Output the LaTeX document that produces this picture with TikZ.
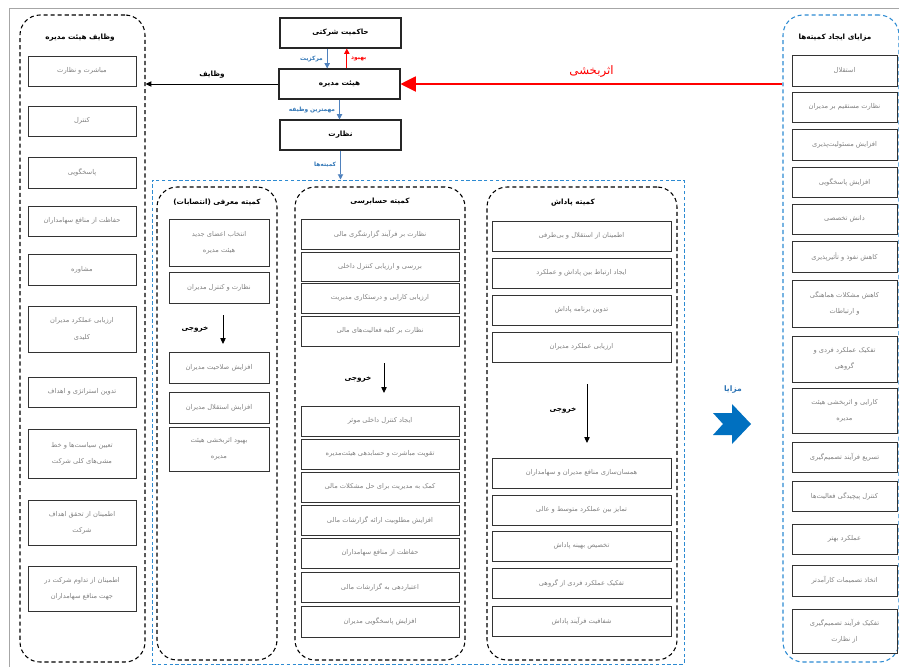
\documentclass[tikz,border=0pt]{standalone}
\usepackage{fontspec}
\usetikzlibrary{arrows.meta}
\newfontfamily\arabicfont[Script=Arabic]{DejaVu Sans}
\TeXXeTstate=1
\newcommand{\fa}[1]{\beginR#1\endR}
\definecolor{arrowblue}{HTML}{4F81BD}
\definecolor{labelblue}{HTML}{2E74B5}
\definecolor{dashblue}{HTML}{2D8BD2}
\definecolor{chevblue}{HTML}{0070C0}

\tikzset{
  titletext/.style={font=\arabicfont\bfseries\fontsize{6.2}{7.5}\selectfont},
  bluelabel/.style={font=\arabicfont\bfseries\fontsize{5}{6}\selectfont,text=labelblue},
  bluearrow/.style={draw=arrowblue,line width=0.8pt,-{Triangle[width=4.5pt,length=4.5pt]}},
  blackarrow/.style={draw=black,line width=0.8pt,-{Triangle[width=4.5pt,length=5pt]}},
  mainbox/.style={rectangle,draw=black!85,line width=0.9pt,minimum width=3.63cm,minimum height=0.9cm,titletext}
}

\begin{document}
\begin{tikzpicture}[x=0.03cm,y=-0.03cm]
  \useasboundingbox (0,0) rectangle (899,666);
  \def\itembox#1#2#3#4#5#6{
    \node[rectangle,draw=black!80,line width=0.6pt,minimum width={(#3-#2)*0.03cm},minimum height={(#5-#4)*0.03cm},inner sep=0pt,align=center,text=black!50,font=\arabicfont\fontsize{5.7}{14}\selectfont] (#1) at ({(#2+#3)/2},{(#4+#5)/2}){#6};
  }
  \def\panel#1#2#3#4#5#6{
    \node[rectangle,draw=#6,line width=0.9pt,dash pattern=on 3.5pt off 2.5pt,rounded corners=0.6cm,minimum width={(#3-#2)*0.03cm},minimum height={(#5-#4)*0.03cm},inner sep=0pt] (#1) at ({(#2+#3)/2},{(#4+#5)/2}){};
  }

  % frame
  \draw[gray!70,line width=0.5pt] (9,8) rectangle (905,672);

  %TOP
  \node[mainbox] (gov) at (340.5,33){\fa{حاکمیت شرکتی}};
  \node[mainbox] (board) at (339.5,84){\fa{هیئت مدیره}};
  \node[mainbox] (over) at (340.5,135){\fa{نظارت}};

  %PANELS
  \panel{duties}{20}{145}{15}{662}{black}
  \panel{benefits}{783}{899}{15}{662}{dashblue}
  \node[rectangle,draw=dashblue,line width=0.8pt,dash pattern=on 3pt off 2pt,minimum width=15.96cm,minimum height=14.52cm,inner sep=0pt] (comm) at (418,422){};
  \panel{nom}{157}{277}{187}{660}{black}
  \panel{aud}{295}{465}{187}{660}{black}
  \panel{rew}{487}{677}{187}{660}{black}

  \node[titletext] (dutiesTitle) at (80,38){\fa{وظایف هیئت مدیره}};
  \node[titletext] (benefitsTitle) at (835,38){\fa{مزایای ایجاد کمیته‌ها}};
  \node[titletext] (nomTitle) at (217,203){\fa{کمیته معرفی (انتصابات)}};
  \node[titletext] (audTitle) at (380,202){\fa{کمیته حسابرسی}};
  \node[titletext] (rewTitle) at (573,203){\fa{کمیته پاداش}};

  %ARROWS
  \draw[bluearrow] ([xshift=-0.4cm]gov.south) -- ([xshift=-0.4cm]gov.south |- board.north) node[midway,left,bluelabel] (lblCentral){\fa{مرکزیت}};
  \draw[draw=red,line width=0.8pt,-{Triangle[width=4.5pt,length=4.5pt]}] ([xshift=0.22cm]board.north) -- ([xshift=0.22cm]board.north |- gov.south) node[midway,right,text=red,font=\arabicfont\bfseries\fontsize{5}{6}\selectfont] (lblImprove){\fa{بهبود}};
  \draw[bluearrow] (board.south) -- (board.south |- over.north) node[midway,left,bluelabel] (lblDuty){\fa{مهمترین وظیفه}};
  \draw[bluearrow] (over.south) -- (over.south |- comm.north) node[midway,left,bluelabel] (lblComm){\fa{کمیته‌ها}};
  \draw[blackarrow] (board.west) -- (board.west -| duties.east) node[midway,above=1pt,titletext] (lblDuties){\fa{وظایف}};
  \draw[draw=red,line width=0.9pt,-{Triangle[width=13pt,length=13pt]}] (benefits.west |- board.east) -- (board.east) node[pos=0.5,above=2pt,text=red,font=\arabicfont\fontsize{10}{12}\selectfont] (lblEffect){\fa{اثربخشی}};

  %DUTIES
  \itembox{duty1}{28}{136}{56}{86}{\fa{مباشرت و نظارت}}
  \itembox{duty2}{28}{136}{106}{136}{\fa{کنترل}}
  \itembox{duty3}{28}{136}{157}{188}{\fa{پاسخگویی}}
  \itembox{duty4}{28}{136}{206}{236}{\fa{حفاظت از منافع سهامداران}}
  \itembox{duty5}{28}{136}{254}{285}{\fa{مشاوره}}
  \itembox{duty6}{28}{136}{306}{352}{\fa{ارزیابی عملکرد مدیران}\\\fa{کلیدی}}
  \itembox{duty7}{28}{136}{377}{407}{\fa{تدوین استراتژی و اهداف}}
  \itembox{duty8}{28}{136}{429}{478}{\fa{تعیین سیاست‌ها و خط}\\\fa{مشی‌های کلی شرکت}}
  \itembox{duty9}{28}{136}{500}{545}{\fa{اطمینان از تحقق اهداف}\\\fa{شرکت}}
  \itembox{duty10}{28}{136}{566}{611}{\fa{اطمینان از تداوم شرکت در}\\\fa{جهت منافع سهامداران}}

  %NOMINATION
  \itembox{nom1}{169}{269}{219}{266}{\fa{انتخاب اعضای جدید}\\\fa{هیئت مدیره}}
  \itembox{nom2}{169}{269}{272}{303}{\fa{نظارت و کنترل مدیران}}
  \coordinate (nomOutA) at (223,315);
  \coordinate (nomOutB) at (223,344);
  \draw[blackarrow] (nomOutA) -- (nomOutB);
  \node[titletext] (nomOut) at (195,329){\fa{خروجی}};
  \itembox{nom3}{169}{269}{352}{383}{\fa{افزایش صلاحیت مدیران}}
  \itembox{nom4}{169}{269}{392}{423}{\fa{افزایش استقلال مدیران}}
  \itembox{nom5}{169}{269}{427}{471}{\fa{بهبود اثربخشی هیئت}\\\fa{مدیره}}

  %AUDIT
  \itembox{aud1}{301}{459}{219}{249}{\fa{نظارت بر فرآیند گزارشگری مالی}}
  \itembox{aud2}{301}{459}{252}{281}{\fa{بررسی و ارزیابی کنترل داخلی}}
  \itembox{aud3}{301}{459}{283}{313}{\fa{ارزیابی کارایی و درستکاری مدیریت}}
  \itembox{aud4}{301}{459}{316}{346}{\fa{نظارت بر کلیه فعالیت‌های مالی}}
  \coordinate (audOutA) at (384,363);
  \coordinate (audOutB) at (384,393);
  \draw[blackarrow] (audOutA) -- (audOutB);
  \node[titletext] (audOut) at (358,379){\fa{خروجی}};
  \itembox{aud5}{301}{459}{406}{436}{\fa{ایجاد کنترل داخلی موثر}}
  \itembox{aud6}{301}{459}{439}{469}{\fa{تقویت مباشرت و حسابدهی هیئت‌مدیره}}
  \itembox{aud7}{301}{459}{472}{502}{\fa{کمک به مدیریت برای حل مشکلات مالی}}
  \itembox{aud8}{301}{459}{505}{535}{\fa{افزایش مطلوبیت ارائه گزارشات مالی}}
  \itembox{aud9}{301}{459}{538}{568}{\fa{حفاظت از منافع سهامداران}}
  \itembox{aud10}{301}{459}{572}{602}{\fa{اعتباردهی به گزارشات مالی}}
  \itembox{aud11}{301}{459}{606}{637}{\fa{افزایش پاسخگویی مدیران}}

  %REWARD
  \itembox{rew1}{492}{671}{221}{251}{\fa{اطمینان از استقلال و بی‌طرفی}}
  \itembox{rew2}{492}{671}{258}{288}{\fa{ایجاد ارتباط بین پاداش و عملکرد}}
  \itembox{rew3}{492}{671}{295}{325}{\fa{تدوین برنامه پاداش}}
  \itembox{rew4}{492}{671}{332}{362}{\fa{ارزیابی عملکرد مدیران}}
  \coordinate (rewOutA) at (587,384);
  \coordinate (rewOutB) at (587,443);
  \draw[blackarrow] (rewOutA) -- (rewOutB);
  \node[titletext] (rewOut) at (563,410){\fa{خروجی}};
  \itembox{rew5}{492}{671}{458}{488}{\fa{همسان‌سازی منافع مدیران و سهامداران}}
  \itembox{rew6}{492}{671}{495}{525}{\fa{تمایز بین عملکرد متوسط و عالی}}
  \itembox{rew7}{492}{671}{531}{561}{\fa{تخصیص بهینه پاداش}}
  \itembox{rew8}{492}{671}{568}{598}{\fa{تفکیک عملکرد فردی از گروهی}}
  \itembox{rew9}{492}{671}{606}{636}{\fa{شفافیت فرآیند پاداش}}

  %BENEFITS
  \itembox{adv1}{792}{897}{55}{86}{\fa{استقلال}}
  \itembox{adv2}{792}{897}{92}{122}{\fa{نظارت مستقیم بر مدیران}}
  \itembox{adv3}{792}{897}{129}{160}{\fa{افزایش مسئولیت‌پذیری}}
  \itembox{adv4}{792}{897}{167}{197}{\fa{افزایش پاسخگویی}}
  \itembox{adv5}{792}{897}{204}{234}{\fa{دانش تخصصی}}
  \itembox{adv6}{792}{897}{241}{272}{\fa{کاهش نفوذ و تأثیرپذیری}}
  \itembox{adv7}{792}{897}{280}{327}{\fa{کاهش مشکلات هماهنگی}\\\fa{و ارتباطات}}
  \itembox{adv8}{792}{897}{336}{382}{\fa{تفکیک عملکرد فردی و}\\\fa{گروهی}}
  \itembox{adv9}{792}{897}{388}{433}{\fa{کارایی و اثربخشی هیئت}\\\fa{مدیره}}
  \itembox{adv10}{792}{897}{442}{472}{\fa{تسریع فرآیند تصمیم‌گیری}}
  \itembox{adv11}{792}{897}{481}{511}{\fa{کنترل پیچیدگی فعالیت‌ها}}
  \itembox{adv12}{792}{897}{524}{554}{\fa{عملکرد بهتر}}
  \itembox{adv13}{792}{897}{565}{596}{\fa{اتخاذ تصمیمات کارآمدتر}}
  \itembox{adv14}{792}{897}{609}{653}{\fa{تفکیک فرآیند تصمیم‌گیری}\\\fa{از نظارت}}

  % benefits arrow
  \node[font=\arabicfont\bfseries\fontsize{6.5}{8}\selectfont,text=labelblue] (advLabel) at (733,390){\fa{مزایا}};
  \fill[chevblue] (713,413) -- (732,413) -- (732,404) -- (751,424) -- (732,444) -- (732,435) -- (713,435) -- (723,424) -- cycle;

\end{tikzpicture}
\end{document}
